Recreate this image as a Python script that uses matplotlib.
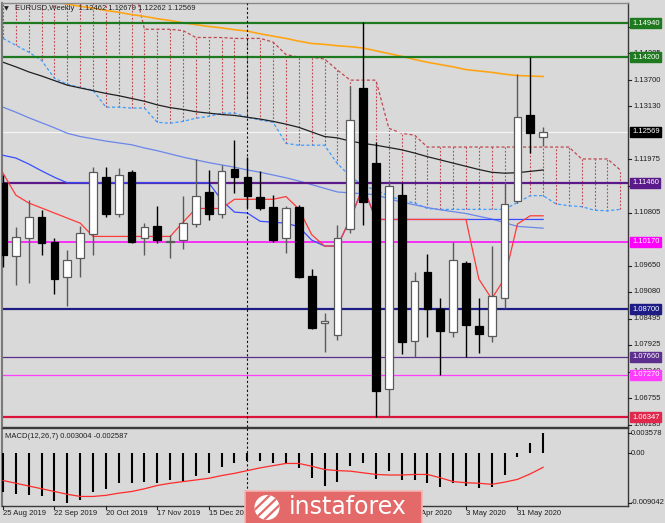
import matplotlib
matplotlib.use("Agg")
import matplotlib.pyplot as plt
from matplotlib import transforms
from matplotlib.patches import Rectangle, Circle
from matplotlib.lines import Line2D

plt.rcParams['font.family'] = ['Liberation Sans', 'DejaVu Sans']

# ---------------- data ----------------
# date labels visible (those under the watermark are hidden in the reference)
date_labels = ["25 Aug 2019", "22 Sep 2019", "20 Oct 2019", "17 Nov 2019", "15 Dec 2019",
               "5 Apr 2020", "3 May 2020", "31 May 2020"]
date_label_idx = [0, 4, 8, 12, 16, 32, 36, 40]

opens = [1.1146, 1.0986, 1.1025, 1.1071, 1.1017, 1.0940, 1.0982, 1.1034, 1.1158, 1.1078,
         1.1169, 1.1025, 1.1051, 1.1017, 1.1021, 1.1056, 1.1126, 1.1078, 1.1176, 1.1158,
         1.1115, 1.1093, 1.1025, 1.1093, 1.0942, 1.0840, 1.0814, 1.1045, 1.1352, 1.1189,
         1.0696, 1.1119, 1.0801, 1.0951, 1.0870, 1.0820, 1.0970, 1.0833, 1.0812, 1.0895,
         1.1106, 1.1293, 1.12462]
highs = [1.1163, 1.1050, 1.1108, 1.1086, 1.1025, 1.0999, 1.1051, 1.1180, 1.1180, 1.1178,
         1.1174, 1.1058, 1.1095, 1.1032, 1.1117, 1.1198, 1.1174, 1.1184, 1.1239, 1.1202,
         1.1171, 1.1119, 1.1095, 1.1097, 1.0958, 1.0862, 1.1054, 1.1357, 1.1496, 1.1235,
         1.1147, 1.1145, 1.0951, 1.0990, 1.0895, 1.1017, 1.0975, 1.0895, 1.1008, 1.1147,
         1.1383, 1.1420, 1.12679]
lows = [1.0962, 1.0923, 1.0927, 1.0988, 1.0903, 1.0877, 1.0940, 1.0988, 1.1071, 1.1071,
        1.1014, 1.0988, 1.1014, 1.0982, 1.1001, 1.1049, 1.1065, 1.1069, 1.1123, 1.1091,
        1.1086, 1.1017, 1.0993, 1.0938, 1.0827, 1.0777, 1.0803, 1.1036, 1.1054, 1.0635,
        1.0635, 1.0772, 1.0766, 1.0810, 1.0727, 1.0809, 1.0766, 1.0774, 1.0798, 1.0873,
        1.1101, 1.1211, 1.12262]
closes = [1.0988, 1.1027, 1.1071, 1.1014, 1.0936, 1.0977, 1.1036, 1.1169, 1.1078, 1.1163,
          1.1017, 1.1049, 1.1021, 1.1019, 1.1058, 1.1117, 1.1078, 1.1171, 1.1158, 1.1117,
          1.1091, 1.1021, 1.1090, 1.0940, 1.0829, 1.0844, 1.1025, 1.1283, 1.1104, 1.0692,
          1.1139, 1.0799, 1.0932, 1.0870, 1.0823, 1.0977, 1.0836, 1.0816, 1.0899, 1.1099,
          1.1289, 1.1254, 1.12569]

tenkan = [1.1167, 1.1119, 1.1102, 1.1091, 1.1080, 1.1069, 1.1058, 1.1029, 1.1029, 1.1029,
          1.1029, 1.1029, 1.1029, 1.1029, 1.1060, 1.1090, 1.1090, 1.1090, 1.1110, 1.1110,
          1.1110, 1.1110, 1.1116, 1.1089, 1.1033, 1.1008, 1.1008, 1.1067, 1.1137, 1.1066,
          1.1066, 1.1066, 1.1066, 1.1066, 1.1066, 1.1066, 1.1066, 1.0936, 1.0893, 1.0937,
          1.1056, 1.1074, 1.1074]
kijun = [1.1206, 1.1200, 1.1187, 1.1172, 1.1158, 1.1146, 1.1146, 1.1146, 1.1146, 1.1146,
         1.1146, 1.1146, 1.1146, 1.1146, 1.1146, 1.1146, 1.1146, 1.1108, 1.1082, 1.1080,
         1.1062, 1.1060, 1.1058, 1.1050, 1.1021, 1.1008, 1.1008, 1.1067, 1.1137, 1.1066,
         1.1066, 1.1066, 1.1066, 1.1066, 1.1066, 1.1066, 1.1066, 1.1066, 1.1066, 1.1066,
         1.1066, 1.1066, 1.1066]
span_a = [1.1461, 1.1446, 1.1431, 1.1413, 1.1374, 1.1361, 1.1354, 1.1348, 1.1311, 1.1311,
          1.1309, 1.1309, 1.1278, 1.1276, 1.1280, 1.1287, 1.1291, 1.1298, 1.1298, 1.1289,
          1.1283, 1.1278, 1.1232, 1.1228, 1.1228, 1.1228, 1.1188, 1.1160, 1.1140, 1.1130,
          1.1117, 1.1108, 1.1102, 1.1090, 1.1088, 1.1088, 1.1088, 1.1088, 1.1088, 1.1088,
          1.1103, 1.1118, 1.1118, 1.1100, 1.1096, 1.1094, 1.1086, 1.1085, 1.1088]
span_b = [1.1600, 1.1600, 1.1600, 1.1600, 1.1600, 1.1600, 1.1600, 1.1600, 1.1600, 1.1600,
          1.1600, 1.1481, 1.1481, 1.1481, 1.1478, 1.1463, 1.1463, 1.1463, 1.1461, 1.1461,
          1.1461, 1.1453, 1.1426, 1.1420, 1.1420, 1.1416, 1.1392, 1.1370, 1.1370, 1.1370,
          1.1265, 1.1254, 1.1250, 1.1224, 1.1224, 1.1224, 1.1224, 1.1224, 1.1224, 1.1224,
          1.1224, 1.1224, 1.1224, 1.1224, 1.1224, 1.1198, 1.1198, 1.1198, 1.1174]

ma_black = [1.1409, 1.1399, 1.1388, 1.1379, 1.1369, 1.1359, 1.1353, 1.1347, 1.1341, 1.1336,
            1.1330, 1.1324, 1.1316, 1.1310, 1.1306, 1.1301, 1.1298, 1.1295, 1.1293, 1.1289,
            1.1285, 1.1280, 1.1274, 1.1267, 1.1257, 1.1247, 1.1244, 1.1237, 1.1232, 1.1228,
            1.1223, 1.1218, 1.1211, 1.1203, 1.1196, 1.1189, 1.1182, 1.1175, 1.1169, 1.1167,
            1.1168, 1.1171, 1.1174]
ma_orange = [1.1558, 1.1553, 1.1549, 1.1544, 1.1540, 1.1536, 1.1531, 1.1527, 1.1522, 1.1518,
             1.1513, 1.1509, 1.1504, 1.1500, 1.1495, 1.1491, 1.1487, 1.1484, 1.1480, 1.1477,
             1.1471, 1.1466, 1.1461, 1.1455, 1.1450, 1.1448, 1.1445, 1.1443, 1.1440, 1.1434,
             1.1428, 1.1422, 1.1415, 1.1409, 1.1404, 1.1399, 1.1393, 1.1390, 1.1387, 1.1383,
             1.1380, 1.1379, 1.1378]
ma_blue = [1.1311, 1.1300, 1.1288, 1.1277, 1.1266, 1.1254, 1.1247, 1.1242, 1.1237, 1.1233,
           1.1229, 1.1222, 1.1216, 1.1209, 1.1202, 1.1196, 1.1190, 1.1185, 1.1180, 1.1174,
           1.1169, 1.1163, 1.1157, 1.1150, 1.1142, 1.1134, 1.1126, 1.1124, 1.1122, 1.1120,
           1.1111, 1.1104, 1.1098, 1.1092, 1.1087, 1.1083, 1.1079, 1.1073, 1.1067, 1.1059,
           1.1051, 1.1049, 1.1047]

macd_hist = [-0.00704, -0.00745, -0.00764, -0.00782, -0.00867, -0.00904, -0.00854, -0.00704, -0.00654, -0.00551,
             -0.00540, -0.00527, -0.00540, -0.00491, -0.00509, -0.00418, -0.00369, -0.00260, -0.00176, -0.00145,
             -0.00140, -0.00187, -0.00176, -0.00278, -0.00460, -0.00594, -0.00522, -0.00236, -0.00176, -0.00478,
             -0.00322, -0.00491, -0.00491, -0.00540, -0.00624, -0.00551, -0.00600, -0.00642, -0.00613, -0.00400,
             -0.00067, 0.00176, 0.00358]
macd_signal = [-0.0050, -0.0055, -0.0060, -0.0065, -0.0070, -0.0075, -0.0079, -0.0079, -0.0077, -0.0073,
               -0.0070, -0.0065, -0.0059, -0.0055, -0.0052, -0.0049, -0.0046, -0.0041, -0.0037, -0.0032,
               -0.0027, -0.0023, -0.0019, -0.0019, -0.0024, -0.0030, -0.0032, -0.0033, -0.0036, -0.0039,
               -0.0040, -0.0040, -0.0039, -0.0039, -0.0045, -0.0052, -0.0054, -0.0055, -0.0057, -0.0053,
               -0.0048, -0.0038, -0.0026]

level_values = [1.14940, 1.14200, 1.11460, 1.10170, 1.08700, 1.07660, 1.07270, 1.06347]
level_colors = ['#1f7a1f', '#1f7a1f', '#5a1a8a', '#ff00ff', '#1c1c84', '#5c2e8e', '#ff3cff', '#dc143c']
level_widths = [1.6, 1.6, 1.6, 1.1, 1.6, 0.9, 0.9, 1.6]
level_label_bg = ['#1f7a1f', '#1f7a1f', '#5a1a8a', '#ff00ff', '#1c1c84', '#5c2e8e', '#ff3cff', '#e0284c']
bid_price = 1.12569
price_ticks = [1.14855, 1.14285, 1.13700, 1.13130, 1.11975, 1.11390, 1.10805,
               1.09650, 1.09080, 1.08495, 1.07925, 1.07340, 1.06755, 1.06185]
macd_ticks = [0.003578, 0.0, -0.009042]
macd_tick_labels = ["0.003578", "0.00", "-0.009042"]
separator_idx = 19
title_text = "EURUSD,Weekly  1.12462 1.12679 1.12262 1.12569"
macd_title = "MACD(12,26,7) 0.003004 -0.002587"

# ---------------- layout ----------------
W, H = 665, 523
BG = '#d9d9d9'
FS = 5.5
fig = plt.figure(figsize=(W / 100, H / 100), dpi=100)
fig.patch.set_facecolor(BG)


def fx(px):
    return px / W


def fy(py):
    return 1 - py / H


ax = fig.add_axes([fx(2), fy(427), (628 - 2) / W, (427 - 3) / H])
ax2 = fig.add_axes([fx(2), fy(506), (628 - 2) / W, (506 - 428) / H])
for a in (ax, ax2):
    a.set_facecolor(BG)
    a.set_xlim(-0.08, 48.6)
    a.set_xticks([])
    a.set_yticks([])
    for s in a.spines.values():
        s.set_color('#3a3a3a')
        s.set_linewidth(1.0)
    a.spines['left'].set_color('#7a7a7a')
    a.spines['left'].set_linewidth(1.5)
ax.spines['top'].set_color('#8a8a8a')
ax.set_ylim(1.06132, 1.15383)
ax2.set_ylim(-0.009635, 0.004545)

n = len(opens)
xs = list(range(n))
xs_cloud = list(range(len(span_a)))

# ichimoku cloud hatch
ax.vlines(xs_cloud, span_a, span_b, colors='#c04850', linewidth=0.8,
          linestyles=[(0, (1.6, 1.6))], zorder=1)
ax.plot(xs_cloud, span_b, color='#c04850', lw=0.9, ls=(0, (2.5, 1.8)), zorder=1.2)
ax.plot(xs_cloud, span_a, color='#3d9cff', lw=0.9, ls=(0, (2.5, 1.8)), zorder=1.2)

# bid line
ax.axhline(bid_price, color='#f4f4f4', lw=0.9, zorder=1.5)

# moving averages
ax.plot(xs, ma_orange, color='#ffa514', lw=1.2, zorder=2)
ax.plot(xs, ma_black, color='#202020', lw=0.9, zorder=2)
ax.plot(xs, ma_blue, color='#6a86ea', lw=0.9, zorder=2)

# horizontal levels
for v, c, w in zip(level_values, level_colors, level_widths):
    ax.axhline(v, color=c, lw=w, zorder=2.5)

# tenkan / kijun
ax.plot(xs, kijun, color='#3a4cff', lw=0.9, zorder=3)
ax.plot(xs, tenkan, color='#ff3a3a', lw=0.9, zorder=3.1)

# separator
for a in (ax, ax2):
    a.axvline(separator_idx, color='#111111', lw=0.8, ls=(0, (2, 2)), zorder=3.5)

# candles
bw = 0.6
for i in xs:
    o, h, l, c = opens[i], highs[i], lows[i], closes[i]
    up = c >= o
    edge = '#5a5a5a' if up else '#000000'
    ax.vlines(i, l, h, colors=edge, lw=1.0, zorder=4)
    body_h = abs(c - o)
    if body_h < 0.00012:
        body_h = 0.00012
    ax.add_patch(Rectangle((i - bw / 2, min(o, c)), bw, body_h,
                           facecolor='white' if up else 'black', edgecolor=edge,
                           lw=0.9, zorder=5))

# MACD
ax2.vlines(xs, 0, macd_hist, colors='black', lw=1.5, zorder=3)
ax2.plot(xs, macd_signal, color='#ff2a2a', lw=0.9, zorder=4)

# ---------------- texts ----------------
tm = transforms.blended_transform_factory(fig.transFigure, ax.transData)
tm2 = transforms.blended_transform_factory(fig.transFigure, ax2.transData)
for v in price_ticks:
    fig.text(fx(633), v, f"{v:.5f}", transform=tm, fontsize=FS, va='center', ha='left',
             color='#1e1e1e', zorder=5)
    fig.add_artist(Line2D([fx(628), fx(631)], [v, v], transform=tm, color='#222222', lw=0.8))

for v, bg in zip(level_values, level_label_bg):
    fig.text(fx(632), v, f"{v:.5f}", transform=tm, fontsize=FS, va='center', ha='left',
             color='white', zorder=6,
             bbox=dict(boxstyle='square,pad=0.2', fc=bg, ec=bg))
fig.text(fx(632), bid_price, f"{bid_price:.5f}", transform=tm, fontsize=FS, va='center',
         ha='left', color='white', zorder=6,
         bbox=dict(boxstyle='square,pad=0.2', fc='black', ec='black'))

for v, lab in zip(macd_ticks, macd_tick_labels):
    fig.text(fx(631), v, lab, transform=tm2, fontsize=FS, va='center', ha='left', color='#1e1e1e')
    fig.add_artist(Line2D([fx(628), fx(631)], [v, v], transform=tm2, color='#222222', lw=0.8))

tx = transforms.blended_transform_factory(ax2.transData, fig.transFigure)
for idx, lab in zip(date_label_idx, date_labels):
    fig.text(idx, fy(513.5), lab, transform=tx, fontsize=FS, va='center', ha='left', color='#1e1e1e')
    fig.add_artist(Line2D([idx, idx], [fy(506), fy(509)], transform=tx, color='#222222', lw=0.8))

fig.text(fx(4), fy(9), "\u25BC", fontsize=4.5, va='center', ha='left', color='#202020',
         family=['DejaVu Sans'])
fig.text(fx(15), fy(9), title_text, fontsize=FS, va='center', ha='left', color='#202020')
fig.text(fx(5), fy(436), macd_title, fontsize=FS, va='center', ha='left', color='#202020')

# ---------------- watermark ----------------
ov = fig.add_axes([0, 0, 1, 1], zorder=20)
ov.set_xlim(0, W)
ov.set_ylim(H, 0)
ov.axis('off')
ov.patch.set_visible(False)
ov.add_patch(Rectangle((245, 491), 177, 40, facecolor='#e46a6a', edgecolor='#f3b3b3', lw=1.2))
logo = Circle((267, 507.5), 12.5, facecolor='white', edgecolor='none')
ov.add_patch(logo)
for x0 in (-10, 0, 10):
    stripe, = ov.plot([254 + x0, 280 + x0], [520, 495], color='#e46a6a', lw=1.6)
    stripe.set_clip_path(logo)
ov.text(289, 507, "instaforex", fontsize=17, color='white', va='center', ha='left',
        family=['DejaVu Sans'])

fig.savefig("out.png", dpi=100, facecolor=BG)
